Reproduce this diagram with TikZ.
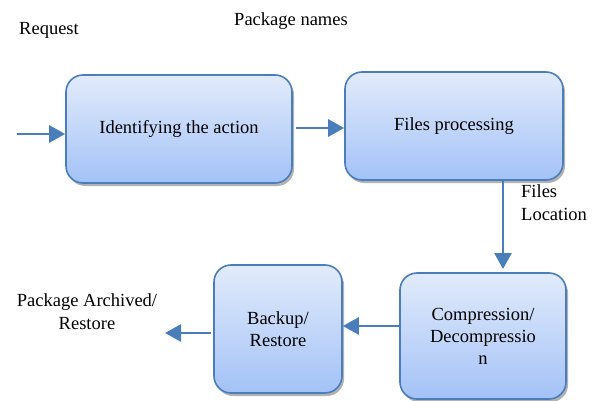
\documentclass[tikz,border=0pt]{standalone}
\usepackage{fontspec}
\setmainfont{Liberation Serif}
\newfontfamily\timesfont{Liberation Serif}
\usetikzlibrary{arrows.meta,shadows}
\definecolor{edgeblue}{HTML}{4A7EBB}
\definecolor{topfill}{HTML}{E2EBFB}
\definecolor{botfill}{HTML}{A3C2F7}
\tikzset{
  procbox/.style={draw=edgeblue, line width=1.6pt, rounded corners=17pt,
    top color=topfill, bottom color=botfill, align=center,
    inner sep=0pt, font=\timesfont\fontsize{18.5}{22}\selectfont,
    drop shadow={shadow xshift=2pt, shadow yshift=-3pt, opacity=0.5, fill=black!60}},
  flow/.style={draw=edgeblue, line width=2.8pt,
    -{Triangle[length=16pt,width=17pt]}},
  lbl/.style={font=\timesfont\fontsize{18.5}{23}\selectfont, align=center, inner sep=0pt}
}
\begin{document}
\begin{tikzpicture}[x=1pt,y=1pt]
\useasboundingbox (0,0) rectangle (595,400);
\node[procbox, minimum width=226pt, minimum height=108pt] (ident) at (179,271) {Identifying the action};
\node[procbox, minimum width=218pt, minimum height=108pt] (files) at (454,274) {Files processing};
\node[procbox, minimum width=166pt, minimum height=126pt] (comp) at (483,64) {Compression/\\Decompressio\\n};
\node[procbox, minimum width=128pt, minimum height=128pt] (backup) at (278,71) {Backup/\\Restore};

\node[lbl] (req) at (49,370) {Request};
\node[lbl] (pkgnames) at (291,379) {Package names};
\node[lbl, align=left, anchor=west] (loc) at (521,197) {Files\\Location};
\node[lbl] (archived) at (87,88) {Package Archived/\\Restore};

\coordinate (inStart) at (17,266);
\coordinate (downEnd) at (503,131);
\coordinate (outEnd) at (165,67);

\draw[flow] (inStart) -- (inStart -| ident.west);
\draw[flow] (ident.east |- 0,272) ++(3,0) -- (files.west |- 0,272);
\draw[flow] (files.south -| downEnd) -- (downEnd);
\draw[flow] (comp.west |- 0,74) -- (backup.east |- 0,74);
\draw[flow] (backup.west |- outEnd) ++(-2,0) -- (outEnd);
\end{tikzpicture}
\end{document}
